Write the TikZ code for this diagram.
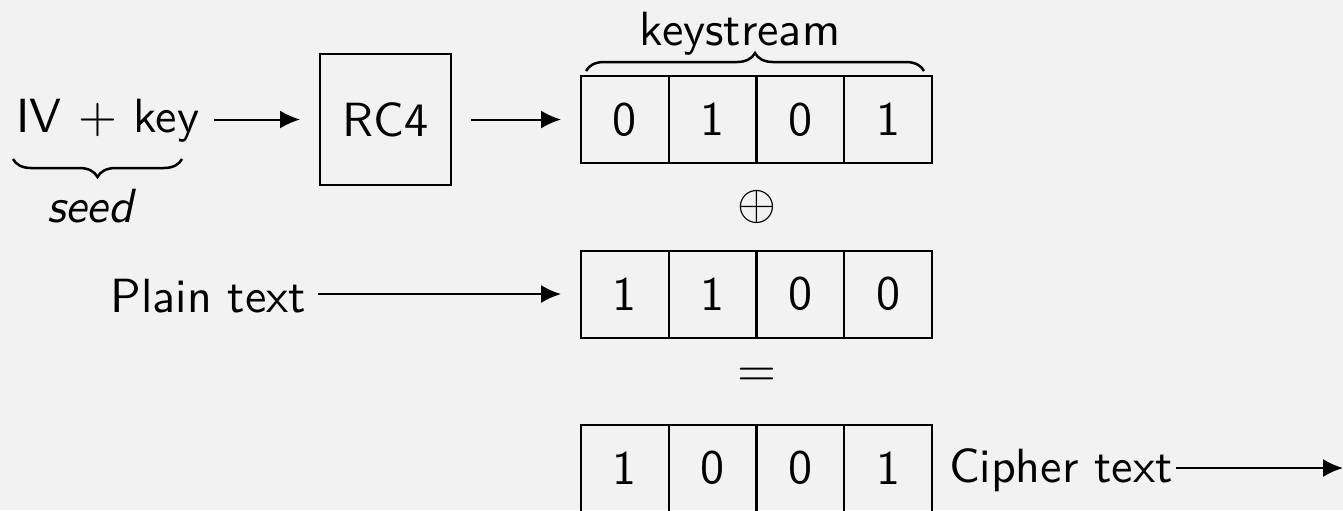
\documentclass[tikz,border=0pt]{standalone}
\usetikzlibrary{arrows.meta,decorations.pathreplacing}
\renewcommand{\familydefault}{\sfdefault}
\definecolor{bg}{HTML}{F2F2F2}
\begin{document}
\begin{tikzpicture}[x=0.2pt,y=-0.2pt,
  every node/.append style={font=\fontsize{9.6}{11.5}\selectfont},
  cell/.style={draw, minimum width=17.55pt, minimum height=17.4pt, inner sep=0pt, outer sep=0pt},
  lbl/.style={inner sep=0pt},
  arr/.style={-{Latex[length=4pt,width=3.6pt]}},
  brc/.style={decorate, decoration={brace, amplitude=3.6pt}, line width=0.5pt}]
\fill[bg] (0,0) rectangle (1343,510);
\useasboundingbox (0,0) rectangle (1343,510);
\clip (0,0) rectangle (1343,510);

% left texts
\node[lbl, anchor=base west] (iv) at (15,132) {IV${}\mkern2mu+\mkern2mu{}$key};
\node[lbl, anchor=base] (seed) at (90,222) {\itshape seed};
\node[lbl, anchor=base east] (plain) at (307,312) {Plain text};

% RC4
\node[draw, minimum size=26.2pt, inner sep=0pt, outer sep=0pt] (rc4) at (385.5,119.5) {RC4};

% keystream row
\node[cell] (k1) at (624.9,119.5) {0};
\node[cell] (k2) at (712.6,119.5) {1};
\node[cell] (k3) at (800.4,119.5) {0};
\node[cell] (k4) at (888.1,119.5) {1};

% plain row
\node[cell] (p1) at (624.9,294) {1};
\node[cell] (p2) at (712.6,294) {1};
\node[cell] (p3) at (800.4,294) {0};
\node[cell] (p4) at (888.1,294) {0};

% cipher row
\node[cell] (c1) at (624.9,468) {1};
\node[cell] (c2) at (712.6,468) {0};
\node[cell] (c3) at (800.4,468) {0};
\node[cell] (c4) at (888.1,468) {1};

\node[lbl] (xor) at (757,207) {$\oplus$};
\node[lbl] (eq) at (757,377) {$=$};

\node[lbl, anchor=base] (ks) at (740,45) {keystream};
\node[lbl, anchor=base west] (cipher) at (948,482) {Cipher text};
\coordinate (out) at (1343,468);

% braces
\draw[brc] (586,71) -- (924,71);
\draw[brc] (182,159) -- (13,159);

% arrows
\draw[arr, shorten <=2.8pt, shorten >=4pt] (iv.east |- rc4.west) -- (rc4.west);
\draw[arr, shorten <=4pt, shorten >=4pt] (rc4.east) -- (k1.west);
\draw[arr, shorten <=2.2pt, shorten >=4pt] (plain.east |- p1.west) -- (p1.west);
\draw[arr, shorten <=0.4pt] (cipher.east |- out) -- (out);
\end{tikzpicture}
\end{document}
